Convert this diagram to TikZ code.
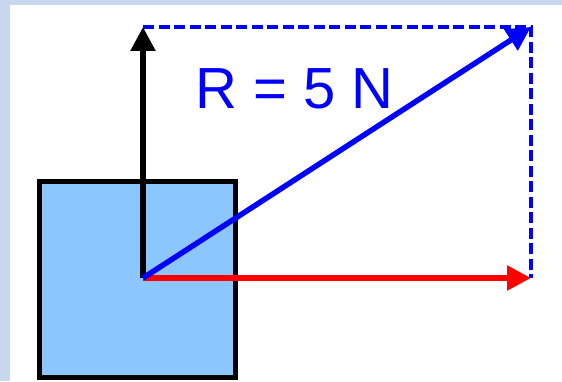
\documentclass[tikz,border=0pt]{standalone}
\usepackage{fontspec}
\setmainfont{Liberation Sans}
\usepackage{tikz}
\usetikzlibrary{arrows.meta,positioning}
\definecolor{frameblue}{RGB}{200,214,238}
\definecolor{blockblue}{RGB}{140,198,255}

\begin{document}
\begin{tikzpicture}[
  block/.style={draw=black,fill=blockblue,line width=3.2pt,minimum width=3.92cm,minimum height=3.92cm,inner sep=0pt},
  force/.style={-{Triangle[length=0.48cm,width=0.48cm]},line width=3.1pt},
  helper/.style={blue,line width=2pt,dash pattern=on 0.22cm off 0.09cm},
  lbl/.style={text=blue,font=\fontsize{33}{36}\selectfont}]
  % background
  \useasboundingbox (0,0) rectangle (11.24,7.62);
  \fill[frameblue] (0,0) rectangle (11.24,7.62);
  \fill[white] (0.19,0) rectangle (11.24,7.52);
  % block and points
  \node[block] (body) at (2.75,2.03) {};
  \coordinate (O) at (2.86,2.06);
  \coordinate (up) at (2.86,7.08);
  \coordinate (corner) at (10.62,7.08);
  \coordinate (side) at (10.62,2.06);
  % components
  \draw[force,black] (O) -- (up);
  \draw[force,red] (O) -- (side);
  % parallelogram
  \draw[helper] (up) -- (corner) -- (side);
  % resultant
  \draw[force,blue] (O) -- (corner);
  \node[lbl] (R) at (5.89,5.84) {R = 5 N};
\end{tikzpicture}
\end{document}
